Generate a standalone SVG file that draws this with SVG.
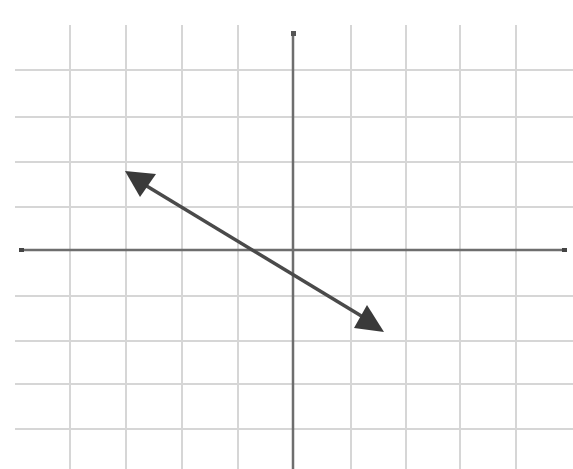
<svg xmlns="http://www.w3.org/2000/svg" width="573" height="469" viewBox="0 0 573 469">
<style>
.grid{stroke:#d6d6d6;stroke-width:2;fill:none}
.axis{stroke:#6e6e6e;stroke-width:2.5;fill:none}
.ln{stroke:#4a4a4a;stroke-width:3.5;fill:none}
.head{fill:#3a3a3a}
</style>
<rect width="573" height="469" fill="#ffffff"/>
<g id="grid">
<path class="grid" d="M70,25V469M126,25V469M182,25V469M238,25V469M351,25V469M406,25V469M460,25V469M516,25V469"/>
<path class="grid" d="M15,70H573M15,117H573M15,162H573M15,207H573M15,296H573M15,341H573M15,384H573M15,429H573"/>
</g>
<g id="axes">
<path class="axis" d="M20,250H566"/>
<path class="axis" d="M293,31V469"/>
<rect x="19" y="248" width="5" height="4" fill="#444"/>
<rect x="562" y="248" width="5" height="4" fill="#444"/>
<rect x="291" y="31" width="5" height="5" fill="#555"/>
</g>
<g id="connectors">
<line class="ln" x1="145" y1="185" x2="368" y2="320"/>
<path class="head" d="M125,171 L156,174 L140,197 Z"/>
<path class="head" d="M384,332 L354,328 L367,305 Z"/>
</g>
</svg>
